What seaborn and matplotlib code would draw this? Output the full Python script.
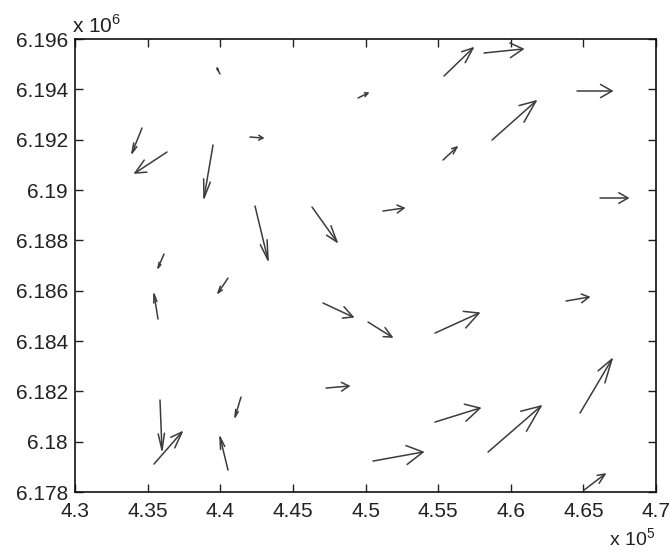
import numpy as np
import seaborn as sns
import matplotlib.pyplot as plt

# quiver data (easting, northing, u, v)
X = [439983, 434613, 436334, 442049, 439501, 442393, 446317, 436128,
     455406, 458160, 449485, 464563, 458710, 455337, 451206, 466146,
     440534, 435715, 435852, 435439, 441429, 440534, 447075, 450173,
     454786, 463805, 447282, 454786, 458435, 464769, 450517, 465045]
Y = [6194610, 6192463, 6191509, 6192105, 6191788, 6189363, 6189324, 6187456,
     6194530, 6195444, 6193655, 6193933, 6191986, 6191191, 6189165, 6189681,
     6186502, 6184873, 6181654, 6179111, 6181773, 6178872, 6185509, 6184753,
     6184316, 6185588, 6182131, 6180780, 6179587, 6181137, 6179230, 6178077]
U = [-207, -689, -2203, 895, -620, 895, 1721, -413,
     1997, 2685, 689, 2410, 3029, 964, 1446, 1928,
     -689, -275, 138, 1928, -413, -551, 2066, 1652,
     3029, 1584, 1584, 3098, 3649, 2203, 3443, 1446]
V = [238, -994, -835, -40, -2106, -2146, -1391, -556,
     1113, 159, 199, 0, 1550, 517, 119, 0,
     -596, 994, -1987, 1272, -795, 1311, -556, -596,
     795, 159, 79, 556, 1828, 2146, 358, 636]

XTICKS = np.arange(430000, 470001, 5000)
YTICKS = np.arange(6178000, 6196001, 2000)

ALPHA, BETA = 0.33, 0.33   # matlab quiver head proportions
COL = "#3c3c3c"

sns.set_style("ticks", {"xtick.direction": "in", "ytick.direction": "in"})
plt.rcParams["font.family"] = ["Liberation Sans", "DejaVu Sans"]
plt.rcParams["mathtext.fontset"] = "custom"
plt.rcParams["mathtext.rm"] = "Liberation Sans"

fig = plt.figure(figsize=(6.69, 5.54), dpi=100)
ax = fig.add_axes([0.1121, 0.1119, 0.8685, 0.8177])

df_x, df_y, df_u, df_v = map(np.asarray, (X, Y, U, V))
for x, y, u, v in zip(df_x, df_y, df_u, df_v):
    ax.plot([x, x + u], [y, y + v], color=COL, lw=1.1, solid_capstyle="round")
    hu = [x + u - ALPHA * (u + BETA * v), x + u, x + u - ALPHA * (u - BETA * v)]
    hv = [y + v - ALPHA * (v - BETA * u), y + v, y + v - ALPHA * (v + BETA * u)]
    ax.plot(hu, hv, color=COL, lw=1.1, solid_joinstyle="miter")

ax.set_xlim(430000, 470000)
ax.set_ylim(6178000, 6196000)
ax.set_xticks(XTICKS)
ax.set_yticks(YTICKS)
ax.set_xticklabels(["%g" % (t / 1e5) for t in XTICKS])
ax.set_yticklabels(["%g" % (t / 1e6) for t in YTICKS])
ax.tick_params(axis="both", which="both", direction="in", length=6, width=1.0,
               top=True, right=True, labelsize=15, colors="#222222")
ax.tick_params(axis="x", pad=7)
ax.tick_params(axis="y", pad=5)
for side in ("top", "right", "bottom", "left"):
    ax.spines[side].set_color("#111111")
    ax.spines[side].set_linewidth(1.2)

ax.text(-0.005, 1.005, r"x 10$^{\mathregular{6}}$", transform=ax.transAxes,
        fontsize=15, color="#222222", ha="left", va="bottom")
ax.text(0.998, -0.128, r"x 10$^{\mathregular{5}}$", transform=ax.transAxes,
        fontsize=14, color="#222222", ha="right", va="bottom")

fig.savefig("out.png", dpi=100)
